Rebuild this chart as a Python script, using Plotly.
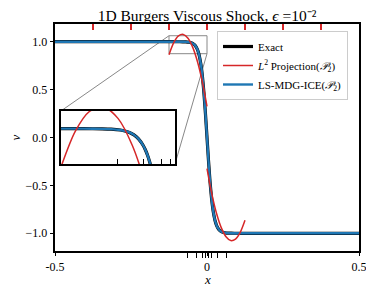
import plotly.graph_objects as go

# ---------------- data ----------------
x_exact = [-0.5, -0.2, -0.15, -0.125, -0.1, -0.08, -0.07, -0.06, -0.055, -0.05, -0.045, -0.04,
           -0.035, -0.0325, -0.03, -0.0275, -0.025, -0.02, -0.015, -0.01, -0.005, 0.0,
           0.005, 0.01, 0.015, 0.02, 0.025, 0.0275, 0.03, 0.0325, 0.035, 0.04, 0.045, 0.05,
           0.055, 0.06, 0.07, 0.08, 0.1, 0.125, 0.15, 0.2, 0.5]
u_exact = [1.0, 1.0, 1.0, 1.0, 0.9999, 0.9993, 0.9982, 0.9951, 0.9919, 0.9866, 0.9780, 0.9640,
           0.9414, 0.9254, 0.9052, 0.8798, 0.8483, 0.7616, 0.6352, 0.4621, 0.2449, 0.0,
           -0.2449, -0.4621, -0.6352, -0.7616, -0.8483, -0.8798, -0.9052, -0.9254, -0.9414, -0.9640,
           -0.9780, -0.9866, -0.9919, -0.9951, -0.9982, -0.9993, -0.9999, -1.0, -1.0, -1.0, -1.0]

x_ice = list(x_exact)
u_ice = list(u_exact)

x_l2_left = [-0.125, -0.109375, -0.09375, -0.078125, -0.0625, -0.046875, -0.03125, -0.015625, 0.0]
u_l2_left = [0.8646, 0.9902, 1.0606, 1.0760, 1.0362, 0.9412, 0.7911, 0.5858, 0.3255]
x_l2_right = [0.0, 0.015625, 0.03125, 0.046875, 0.0625, 0.078125, 0.09375, 0.109375, 0.125]
u_l2_right = [-0.3255, -0.5858, -0.7911, -0.9412, -1.0362, -1.0760, -1.0606, -0.9902, -0.8646]

l2_nodes = [-0.375, -0.25, -0.125, 0.0, 0.125, 0.25, 0.375]
ice_nodes = [-0.0635, -0.035, -0.0145, -0.005, 0.005, 0.0145, 0.035, 0.0635]

x_ticks = [-0.5, 0.0, 0.5]
x_ticktext = ["-0.5", "0", "0.5"]
y_ticks = [-1.0, -0.5, 0.0, 0.5, 1.0]
y_ticktext = ["\u22121.0", "\u22120.5", "0.0", "0.5", "1.0"]

zoom_x = [-0.125, 0.0]
zoom_y = [0.875, 1.0625]

# ---------------- style ----------------
FONT = "Liberation Serif"
BLACK = "#000000"
RED = "#d62728"
BLUE = "#1f77b4"
# the page body has an 8px margin; size the figure so the plot lands where the reference has it
W, H = 366, 286
ML, MR, MT, MB = 47, 15, 16, 43
PW, PH = W - ML - MR, H - MT - MB
XR = [-0.5, 0.5]
YR = [-1.185, 1.185]
INSET_X = [0.0197, 0.3947]
INSET_Y = [0.383, 0.617]

fig = go.Figure()

l2_x = x_l2_left + [None] + x_l2_right
l2_u = u_l2_left + [None] + u_l2_right

for ax, show in (("", True), ("3", False)):
    xa = "x" + ax if ax else "x"
    ya = "y" + ax if ax else "y"
    fig.add_trace(go.Scatter(x=x_exact, y=u_exact, mode="lines", name="Exact",
                             line=dict(color=BLACK, width=3.2, shape="spline", smoothing=0.6),
                             xaxis=xa, yaxis=ya, showlegend=show, legendrank=1))
    fig.add_trace(go.Scatter(x=x_ice, y=u_ice, mode="lines", name="LS-MDG-ICE(<i>\U0001D4AB</i><sub>2</sub>)",
                             line=dict(color=BLUE, width=2.4, shape="spline", smoothing=0.6),
                             xaxis=xa, yaxis=ya, showlegend=show, legendrank=3))
    fig.add_trace(go.Scatter(x=l2_x, y=l2_u, mode="lines",
                             name="<i>L</i><sup>2</sup> Projection(<i>\U0001D4AB</i><sub>2</sub>)",
                             line=dict(color=RED, width=1.5, shape="spline", smoothing=0.8),
                             connectgaps=False,
                             xaxis=xa, yaxis=ya, showlegend=show, legendrank=2))

# dummy trace for top (red mesh) axis
fig.add_trace(go.Scatter(x=XR, y=[None, None], xaxis="x2", yaxis="y", showlegend=False,
                         hoverinfo="skip", mode="lines"))

# zoom rectangle and connectors
fig.add_shape(type="rect", xref="x", yref="y", x0=zoom_x[0], x1=zoom_x[1],
              y0=zoom_y[0], y1=zoom_y[1], line=dict(color="#888888", width=1), layer="below")


def px2data_x(p):
    return XR[0] + p * (XR[1] - XR[0])


def px2data_y(p):
    return YR[0] + p * (YR[1] - YR[0])


fig.add_shape(type="line", xref="x", yref="y",
              x0=px2data_x(INSET_X[0]), y0=px2data_y(INSET_Y[1]),
              x1=zoom_x[0], y1=zoom_y[1], line=dict(color="#888888", width=1), layer="below")
fig.add_shape(type="line", xref="x", yref="y",
              x0=px2data_x(INSET_X[1]), y0=px2data_y(INSET_Y[0]),
              x1=zoom_x[1], y1=zoom_y[0], line=dict(color="#888888", width=1), layer="below")

# axis titles as annotations at fixed positions
fig.add_annotation(text="<i>x</i>", xref="paper", yref="paper", x=0.5, y=-(271 - (H - MB)) / PH,
                   xanchor="center", yanchor="middle", showarrow=False, font=dict(family=FONT, size=13))
fig.add_annotation(text="<i>v</i>", xref="paper", yref="paper", x=-(ML - 7) / PW, y=0.5,
                   xanchor="center", yanchor="middle", showarrow=False, textangle=-90,
                   font=dict(family=FONT, size=13))

fig.update_layout(
    width=W, height=H,
    margin=dict(l=ML, r=MR, t=MT, b=MB, autoexpand=False),
    paper_bgcolor="white", plot_bgcolor="white",
    font=dict(family=FONT, size=12, color="black"),
    title=dict(text="1D Burgers Viscous Shock, <i>\u03f5</i> =10\u207b\u00b2",
               x=(ML + PW / 2) / W, xanchor="center", xref="container",
               y=1 - 7.5 / H, yanchor="middle", yref="container",
               font=dict(family=FONT, size=15.5)),
    xaxis=dict(range=XR, domain=[0, 1], anchor="y", tickvals=x_ticks, ticktext=x_ticktext,
               ticks="outside", ticklen=3.5, tickwidth=1, tickcolor="black",
               showline=True, linecolor="black", linewidth=1.5, mirror=True,
               showgrid=False, zeroline=False, automargin=False,
               minor=dict(tickvals=ice_nodes, ticks="outside", ticklen=5, tickwidth=1,
                          tickcolor="black", showgrid=False),
               tickfont=dict(size=12)),
    xaxis2=dict(range=XR, overlaying="x", side="top", anchor="y", tickvals=l2_nodes,
                ticks="inside", ticklen=6, tickwidth=1.5, tickcolor=RED, automargin=False,
                showticklabels=False, showline=False, showgrid=False, zeroline=False),
    yaxis=dict(range=YR, domain=[0, 1], anchor="x", tickvals=y_ticks, ticktext=y_ticktext,
               ticks="outside", ticklen=3.5, tickwidth=1, tickcolor="black",
               showline=True, linecolor="black", linewidth=1.5, mirror=True,
               showgrid=False, zeroline=False, automargin=False,
               tickfont=dict(size=12)),
    xaxis3=dict(range=zoom_x, domain=INSET_X, anchor="y3",
                tickvals=[v for v in ice_nodes if zoom_x[0] < v < zoom_x[1]],
                ticks="inside", ticklen=5, tickwidth=1, tickcolor="black", showticklabels=False,
                showline=True, linecolor="black", linewidth=1.5, mirror=True, automargin=False,
                showgrid=False, zeroline=False),
    yaxis3=dict(range=zoom_y, domain=INSET_Y, anchor="x3", ticks="", showticklabels=False,
                showline=True, linecolor="black", linewidth=1.5, mirror=True, automargin=False,
                showgrid=False, zeroline=False),
    legend=dict(x=(209 - ML) / PW, y=(H - MB - 23) / PH,
                xanchor="left", yanchor="top",
                bgcolor="rgba(255,255,255,0.85)", bordercolor="#cccccc", borderwidth=1,
                font=dict(family=FONT, size=11), tracegroupgap=0, itemwidth=30),
    showlegend=True,
)

fig.write_html("out.html")
